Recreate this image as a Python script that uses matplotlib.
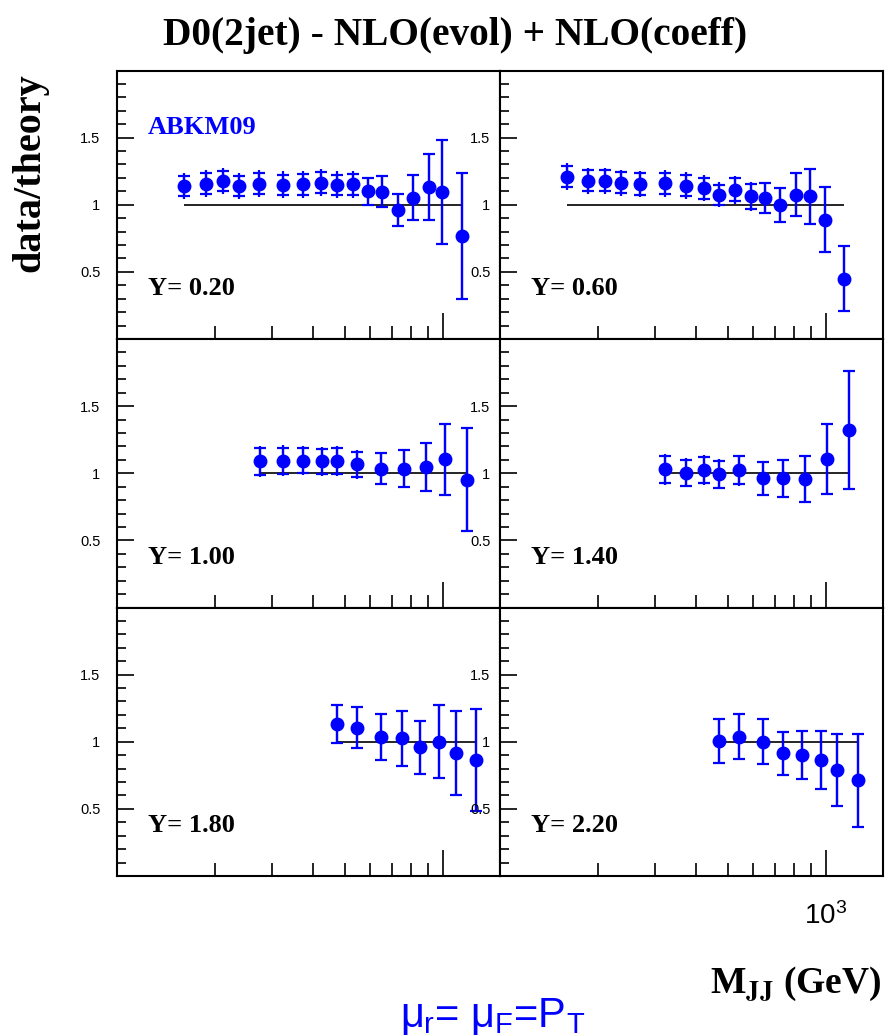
import numpy as np
import matplotlib.pyplot as plt
from matplotlib.ticker import NullFormatter

# rapidity bins, one panel each
rap_labels = ["Y= 0.20", "Y= 0.60", "Y= 1.00", "Y= 1.40", "Y= 1.80", "Y= 2.20"]

mass_y020 = [161, 187, 212, 237, 273, 323, 373, 423, 474, 530, 591, 652, 727, 811, 905, 995, 1150]
ratio_y020 = [1.14, 1.158, 1.177, 1.14, 1.158, 1.148, 1.153, 1.165, 1.148, 1.153, 1.099, 1.096, 0.961, 1.054, 1.133, 1.096, 0.768]
tot_y020 = [0.10, 0.10, 0.10, 0.10, 0.10, 0.10, 0.10, 0.10, 0.10, 0.10, 0.10, 0.115, 0.12, 0.167, 0.245, 0.39, 0.47]
cap_y020 = [0.077, 0.077, 0.077, 0.077, 0.077, 0.077, 0.077, 0.077, 0.077, 0.077, 0.10, 0.115, 0.12, 0.167, 0.245, 0.39, 0.47]

mass_y060 = [161, 186, 210, 236, 270, 321, 372, 422, 471, 525, 588, 649, 723, 809, 897, 993, 1138]
ratio_y060 = [1.209, 1.18, 1.18, 1.163, 1.155, 1.16, 1.143, 1.123, 1.074, 1.111, 1.062, 1.049, 1.0, 1.076, 1.062, 0.889, 0.448]
tot_y060 = [0.10, 0.097, 0.097, 0.098, 0.10, 0.10, 0.098, 0.098, 0.092, 0.103, 0.108, 0.113, 0.125, 0.158, 0.203, 0.243, 0.243]
cap_y060 = [0.08, 0.077, 0.077, 0.078, 0.08, 0.08, 0.078, 0.078, 0.075, 0.085, 0.092, 0.113, 0.125, 0.158, 0.203, 0.243, 0.243]

mass_y100 = [274, 324, 373, 425, 474, 545, 648, 759, 891, 1016, 1191]
ratio_y100 = [1.088, 1.093, 1.093, 1.088, 1.091, 1.066, 1.034, 1.034, 1.047, 1.103, 0.953]
tot_y100 = [0.117, 0.114, 0.108, 0.107, 0.11, 0.11, 0.115, 0.136, 0.178, 0.264, 0.385]
cap_y100 = [0.10, 0.097, 0.092, 0.091, 0.094, 0.095, 0.115, 0.136, 0.178, 0.264, 0.385]

mass_y140 = [321, 372, 423, 471, 542, 640, 739, 866, 1009, 1183]
ratio_y140 = [1.029, 1.005, 1.025, 0.993, 1.022, 0.961, 0.961, 0.956, 1.103, 1.324]
tot_y140 = [0.113, 0.11, 0.11, 0.113, 0.116, 0.12, 0.137, 0.172, 0.261, 0.439]
cap_y140 = [0.10, 0.097, 0.097, 0.10, 0.103, 0.12, 0.137, 0.172, 0.261, 0.439]

mass_y180 = [474, 545, 648, 748, 854, 974, 1102, 1270]
ratio_y180 = [1.135, 1.106, 1.037, 1.025, 0.958, 1.0, 0.916, 0.867]
tot_y180 = [0.142, 0.155, 0.172, 0.202, 0.20, 0.272, 0.315, 0.38]

mass_y220 = [472, 541, 640, 739, 846, 967, 1086, 1257]
ratio_y220 = [1.005, 1.037, 1.0, 0.914, 0.901, 0.865, 0.791, 0.712]
tot_y220 = [0.165, 0.169, 0.167, 0.16, 0.18, 0.214, 0.266, 0.348]

panels = [
    (mass_y020, ratio_y020, tot_y020, cap_y020),
    (mass_y060, ratio_y060, tot_y060, cap_y060),
    (mass_y100, ratio_y100, tot_y100, cap_y100),
    (mass_y140, ratio_y140, tot_y140, cap_y140),
    (mass_y180, ratio_y180, tot_y180, tot_y180),
    (mass_y220, ratio_y220, tot_y220, tot_y220),
]

plt.rcParams['mathtext.fontset'] = 'custom'
plt.rcParams['mathtext.rm'] = 'Liberation Sans'
plt.rcParams['mathtext.it'] = 'Liberation Sans'
plt.rcParams['mathtext.bf'] = 'Liberation Sans:bold'

W, H = 886.0, 1035.0
fig = plt.figure(figsize=(8.86, 10.35), dpi=100)

col_x = [117 / W, 500 / W]
row_y = [1 - 339 / H, 1 - 607.5 / H, 1 - 876 / H]
pw = 383 / W
ph = 268.5 / H

serif = 'Liberation Serif'
sans = 'Liberation Sans'

for i in range(6):
    m, r, tot, cap = panels[i]
    col = i % 2
    row = i // 2
    ax = fig.add_axes([col_x[col], row_y[row], pw, ph])
    ax.set_xscale('log')
    ax.set_xlim(100, 1500)
    ax.set_ylim(0, 2)

    ax.hlines(1, m[0], m[-1], color='black', lw=1.2, zorder=2)
    ax.errorbar(m, r, yerr=tot, fmt='none', ecolor='blue', elinewidth=1.6, capsize=0, zorder=3)
    ax.errorbar(m, r, yerr=cap, fmt='o', color='blue', ms=9, elinewidth=1.6,
                capsize=4.3, capthick=1.6, zorder=4)

    for s in ax.spines.values():
        s.set_linewidth(1.5)

    ax.set_yticks([0.5, 1, 1.5], labels=['0.5', '1', '1.5'])
    ax.set_yticks([v / 10 for v in range(1, 20) if v not in (5, 10, 15)], minor=True)
    if i == 5:
        ax.set_xticks([1000], labels=[r'$10^{3}$'])
    else:
        ax.set_xticks([1000], labels=[''])
    ax.set_xticks([200, 300, 400, 500, 600, 700, 800, 900], minor=True)
    ax.xaxis.set_minor_formatter(NullFormatter())

    ax.tick_params(axis='both', which='both', direction='in', top=False, right=False)
    ax.tick_params(axis='y', which='major', length=12, width=1.2, labelsize=10.5,
                   pad=12 if col == 0 else 7)
    ax.tick_params(axis='y', which='minor', length=6.5, width=1.2)
    ax.tick_params(axis='x', which='major', length=19, width=1.2, labelsize=20, pad=19)
    ax.tick_params(axis='x', which='minor', length=9.5, width=1.2)
    for lab in ax.get_yticklabels() + ax.get_xticklabels():
        lab.set_fontfamily(sans)

    ax.text(0.081, 0.163, rap_labels[i], transform=ax.transAxes, fontsize=19,
            fontweight='bold', family=serif, va='baseline')
    if i == 0:
        ax.text(0.081, 0.762, 'ABKM09', transform=ax.transAxes, fontsize=19,
                fontweight='bold', family=serif, color='blue', va='baseline')

fig.text(0.514, 1 - 45 / H, 'D0(2jet) - NLO(evol) + NLO(coeff)', ha='center', va='baseline',
         fontsize=28.4, fontweight='bold', family=serif)
fig.text(30 / W, 1 - 173 / H, 'data/theory', rotation=90, ha='center', va='center',
         fontsize=29, fontweight='bold', family=serif)
fig.text(882 / W, 1 - 993 / H, r'M$_{\mathbf{JJ}}$ (GeV)', ha='right', va='baseline',
         fontsize=27, fontweight='bold', family=serif, math_fontfamily='stix')
fig.text(400 / W, 1 - 1027 / H, r'$\mu_{r}$= $\mu_{F}$=P$_{T}$', ha='left', va='baseline',
         fontsize=30, family=sans, color='blue', math_fontfamily='custom')

plt.savefig('out.png', dpi=100)
